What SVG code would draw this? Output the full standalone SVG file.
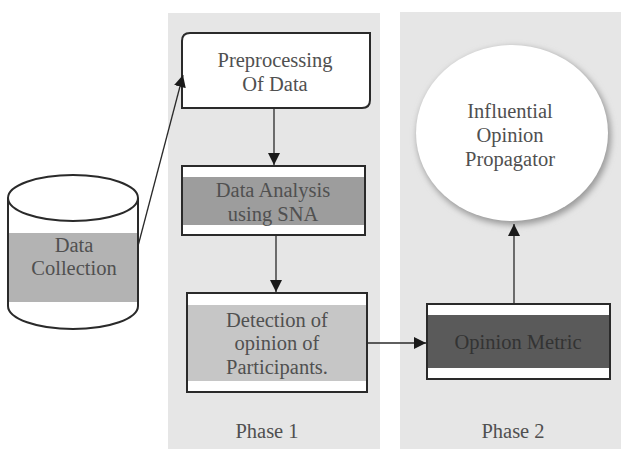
<svg xmlns="http://www.w3.org/2000/svg" width="621" height="449" viewBox="0 0 621 449">
<defs>
<style>
text{font-family:'Liberation Serif','DejaVu Serif',serif;font-size:20.5px;fill:#505050;text-anchor:middle}
.box{stroke:#2a2a2a;stroke-width:2;fill:#fff}
.edge{stroke:#2a2a2a;stroke-width:1.3;fill:none;marker-end:url(#ah)}
</style>
<marker id="ah" viewBox="0 0 10 10" refX="10" refY="5" markerWidth="12" markerHeight="12" markerUnits="userSpaceOnUse" orient="auto"><path d="M0,0L10,5L0,10z" fill="#1a1a1a"/></marker>
<filter id="sh" x="-20%" y="-20%" width="140%" height="140%"><feGaussianBlur stdDeviation="3"/></filter>
</defs>
<rect width="621" height="449" fill="#fff"/>
<g id="phase1-panel"><rect x="168" y="13" width="212" height="436" fill="#e6e6e6"/><text x="267" y="438">Phase 1</text></g>
<g id="phase2-panel"><rect x="400" y="12" width="221" height="437" fill="#e6e6e6"/><text x="513" y="438">Phase 2</text></g>
<g id="data-collection">
<path d="M8,198 V306 A65,23 0 0 0 138,306 V198" fill="#fff" stroke="#2a2a2a" stroke-width="2"/>
<rect x="9" y="233" width="128" height="69" fill="#b3b3b3"/>
<ellipse cx="73" cy="198" rx="65" ry="23" fill="#fff" stroke="#2a2a2a" stroke-width="2"/>
<text x="74" y="252">Data</text><text x="74" y="275">Collection</text>
</g>
<g id="preprocessing">
<path class="box" d="M190,33 H370 V100 Q370,108 362,108 H182 V41 Q182,33 190,33z"/>
<text x="275" y="67">Preprocessing</text><text x="275" y="91">Of Data</text>
</g>
<g id="data-analysis">
<rect class="box" x="182" y="166" width="183" height="69"/>
<rect x="183" y="177" width="181" height="48" fill="#9d9d9d"/>
<text x="273" y="197">Data Analysis</text><text x="273" y="221">using SNA</text>
</g>
<g id="detection">
<rect class="box" x="187" y="293" width="180" height="99"/>
<rect x="188" y="305" width="178" height="76" fill="#c6c6c6"/>
<text x="277" y="327">Detection of</text><text x="277" y="350">opinion of</text><text x="277" y="374">Participants.</text>
</g>
<g id="opinion-metric">
<rect class="box" x="427" y="304" width="183" height="75"/>
<rect x="428" y="315" width="181" height="53" fill="#5a5a5a"/>
<text x="518" y="349" style="fill:#333">Opinion Metric</text>
</g>
<g id="propagator">
<ellipse cx="514" cy="136" rx="97" ry="89" fill="#9a9a9a" filter="url(#sh)"/>
<ellipse cx="512" cy="133" rx="96" ry="88" fill="#fff"/>
<text x="510" y="118">Influential</text><text x="510" y="142">Opinion</text><text x="510" y="166">Propagator</text>
</g>
<g id="connectors">
<line class="edge" x1="138" y1="246" x2="183" y2="75"/>
<line class="edge" x1="274" y1="108" x2="274" y2="165"/>
<line class="edge" x1="276" y1="235" x2="276" y2="292"/>
<line class="edge" x1="367" y1="343" x2="426" y2="343"/>
<line class="edge" x1="514" y1="304" x2="514" y2="224"/>
</g>
</svg>
